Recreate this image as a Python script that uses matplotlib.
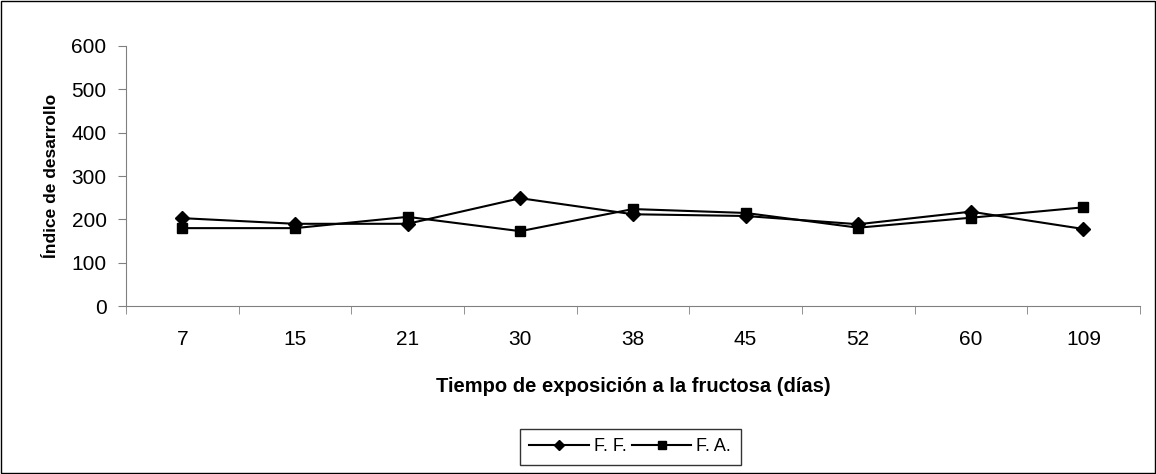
import matplotlib.pyplot as plt
from matplotlib.patches import Rectangle

plt.rcParams['font.family'] = ['Liberation Sans', 'DejaVu Sans']

dias = ['7', '15', '21', '30', '38', '45', '52', '60', '109']
ff = [203, 190, 190, 249, 212, 208, 189, 218, 178]
fa = [180, 180, 206, 173, 224, 215, 181, 204, 228]

fig = plt.figure(figsize=(11.56, 4.74), dpi=100)
ax = fig.add_axes([0.109, 0.354, 0.877, 0.549])

x = range(len(dias))
ax.plot(x, ff, color='black', lw=1.5, marker='D', ms=7, label='F. F.')
ax.plot(x, fa, color='black', lw=1.5, marker='s', ms=7.5, label='F. A.')

ax.set_xlim(-0.5, len(dias) - 0.5)
ax.set_ylim(0, 600)
ax.set_yticks(range(0, 601, 100))
ax.set_xticks(list(x))
ax.set_xticklabels(dias)
ax.set_xticks([i - 0.5 for i in range(len(dias) + 1)], minor=True)
ax.tick_params(axis='x', which='major', length=0, pad=17, labelsize=15)
ax.tick_params(axis='x', which='minor', length=6, color='#808080')
ax.tick_params(axis='y', length=6, color='#808080', labelsize=15, pad=8)

for s in ['top', 'right']:
    ax.spines[s].set_visible(False)
for s in ['left', 'bottom']:
    ax.spines[s].set_color('#808080')

ax.set_xlabel('Tiempo de exposición a la fructosa (días)', fontsize=14.5,
              fontweight='bold', labelpad=20)
ax.set_ylabel('Índice de desarrollo', fontsize=12.5, fontweight='bold', labelpad=9)

leg = fig.legend(loc='center', bbox_to_anchor=(0.545, 0.057), ncol=2, fontsize=13,
                 frameon=True, fancybox=False, edgecolor='black', handlelength=3.3,
                 columnspacing=0.3, handletextpad=0.25, borderpad=0.55,
                 markerscale=0.75)
leg.get_frame().set_linewidth(1)

fig.patches.append(Rectangle((0.001, 0.002), 0.998, 0.996, transform=fig.transFigure,
                             fill=False, edgecolor='black', lw=1))

fig.savefig('out.png', dpi=100)
